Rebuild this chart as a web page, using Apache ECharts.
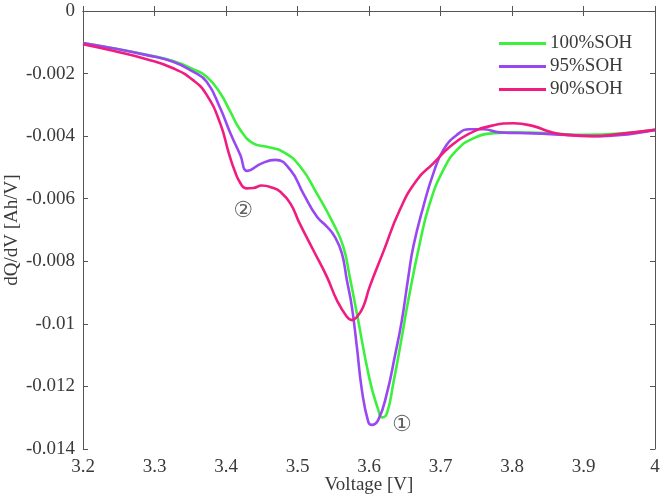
<!DOCTYPE html>
<html>
<head>
<meta charset="utf-8">
<script src="https://cdn.jsdelivr.net/npm/echarts@6/dist/echarts.min.js"></script>
<style>html,body{margin:0;padding:0;background:#fff}#c{width:666px;height:501px}</style>
</head>
<body>
<div id="c"></div>
<script>
// ---- data ----
const seriesNames = ['100%SOH', '95%SOH', '90%SOH'];
const xTicks = [3.2, 3.3, 3.4, 3.5, 3.6, 3.7, 3.8, 3.9, 4];
const yTicks = [0, -0.002, -0.004, -0.006, -0.008, -0.01, -0.012, -0.014];

const v100 = [3.200,3.242,3.289,3.326,3.354,3.373,3.392,3.406,3.420,3.438,3.457,3.480,3.504,3.527,3.550,3.564,3.573,3.583,3.601,3.613,3.618,3.625,3.634,3.646,3.655,3.671,3.685,3.704,3.723,3.746,3.774,3.806,3.853,3.900,3.950,4.000];
const q100 = [-0.00102,-0.00119,-0.00140,-0.00160,-0.00186,-0.00210,-0.00263,-0.00322,-0.00380,-0.00423,-0.00434,-0.00450,-0.00498,-0.00583,-0.00679,-0.00753,-0.00849,-0.00966,-0.01179,-0.01275,-0.01299,-0.01286,-0.01190,-0.01041,-0.00924,-0.00743,-0.00615,-0.00508,-0.00444,-0.00407,-0.00391,-0.00388,-0.00391,-0.00396,-0.00392,-0.00380];

const v95 = [3.200,3.242,3.289,3.326,3.354,3.373,3.392,3.406,3.420,3.430,3.450,3.469,3.490,3.508,3.527,3.541,3.552,3.562,3.569,3.576,3.583,3.590,3.599,3.604,3.613,3.625,3.636,3.646,3.655,3.662,3.676,3.690,3.704,3.723,3.741,3.760,3.783,3.830,3.876,3.923,4.000];
const q95 = [-0.00102,-0.00119,-0.00141,-0.00162,-0.00194,-0.00226,-0.00311,-0.00390,-0.00460,-0.00511,-0.00487,-0.00476,-0.00508,-0.00583,-0.00657,-0.00689,-0.00721,-0.00774,-0.00860,-0.00945,-0.01073,-0.01211,-0.01313,-0.01323,-0.01307,-0.01222,-0.01105,-0.00988,-0.00850,-0.00753,-0.00625,-0.00519,-0.00444,-0.00396,-0.00378,-0.00378,-0.00388,-0.00391,-0.00396,-0.00400,-0.00380];

const v90 = [3.200,3.242,3.289,3.326,3.354,3.373,3.392,3.404,3.412,3.420,3.428,3.438,3.450,3.465,3.476,3.490,3.503,3.522,3.541,3.555,3.569,3.576,3.584,3.592,3.601,3.620,3.643,3.667,3.690,3.713,3.737,3.769,3.802,3.830,3.853,3.876,3.914,3.946,4.000];
const q90 = [-0.00106,-0.00127,-0.00154,-0.00183,-0.00221,-0.00268,-0.00360,-0.00455,-0.00510,-0.00550,-0.00567,-0.00566,-0.00558,-0.00565,-0.00578,-0.00615,-0.00679,-0.00764,-0.00849,-0.00924,-0.00977,-0.00988,-0.00975,-0.00945,-0.00881,-0.00770,-0.00636,-0.00540,-0.00487,-0.00434,-0.00396,-0.00368,-0.00359,-0.00368,-0.00386,-0.00396,-0.00400,-0.00394,-0.00380];

const annText = ['\u2460', '\u2461'];
const annV = [3.646, 3.424];
const annQ = [-0.01325, -0.00640];

// ---- chart ----
const colors = ['#3cf03c', '#9848f2', '#f01c80'];
const font = '"Liberation Serif","Times New Roman",serif';
const txt = '#3a3a3a';
const axisLine = {show: true, lineStyle: {color: '#555', width: 1}};
const tickIn = {show: true, inside: true, length: 5, lineStyle: {color: '#555'}};

function pairs(xs, ys) { return xs.map((x, i) => [x, ys[i]]); }
const vs = [v100, v95, v90], qs = [q100, q95, q90];

const series = seriesNames.map((n, i) => ({
  name: n, type: 'line', data: pairs(vs[i], qs[i]),
  showSymbol: false, smooth: 0.5, lineStyle: {color: colors[i], width: 2.6},
  itemStyle: {color: colors[i]}, z: 2 + i
}));
series.push({
  type: 'scatter', data: annText.map((t, i) => [annV[i], annQ[i], t]),
  symbolSize: 0, silent: true,
  label: {show: true, position: 'inside', formatter: p => p.data[2], fontSize: 22, color: txt,
          fontFamily: '"DejaVu Sans","Noto Sans CJK SC",sans-serif'}
});

const chart = echarts.init(document.getElementById('c'));
chart.setOption({
  animation: false,
  backgroundColor: '#fff',
  grid: {left: 83, right: 11, top: 11, bottom: 52, containLabel: false, outerBoundsMode: 'none'},
  legend: {
    data: seriesNames, orient: 'vertical', left: 499, top: 34,
    itemWidth: 47, itemHeight: 3, itemGap: 4, icon: 'rect', padding: 0,
    textStyle: {fontFamily: font, fontSize: 19, color: txt, padding: [0, 0, 0, -1]}
  },
  xAxis: [{
    type: 'value', min: 3.2, max: 4, interval: 0.1, position: 'bottom',
    name: 'Voltage [V]', nameLocation: 'middle', nameGap: 27, nameMoveOverlap: false,
    nameTextStyle: {fontFamily: font, fontSize: 19, color: txt},
    axisLine, axisTick: tickIn, splitLine: {show: false},
    axisLabel: {fontFamily: font, fontSize: 19, color: txt, margin: 9,
      formatter: v => { const t = xTicks.find(k => Math.abs(k - v) < 1e-6); return t === undefined ? '' : String(t); }}
  }, {
    type: 'value', min: 3.2, max: 4, interval: 0.1, position: 'top',
    axisLine, axisTick: tickIn, splitLine: {show: false}, axisLabel: {show: false}
  }],
  yAxis: [{
    type: 'value', min: -0.014, max: 0, interval: 0.002, position: 'left',
    name: 'dQ/dV [Ah/V]', nameLocation: 'middle', nameGap: 61, nameRotate: 90, nameMoveOverlap: false,
    nameTextStyle: {fontFamily: font, fontSize: 19, color: txt},
    axisLine, axisTick: tickIn, splitLine: {show: false},
    axisLabel: {fontFamily: font, fontSize: 19, color: txt, margin: 8,
      formatter: v => { const t = yTicks.find(k => Math.abs(k - v) < 1e-9); return t === undefined ? '' : String(t); }}
  }, {
    type: 'value', min: -0.014, max: 0, interval: 0.002, position: 'right',
    axisLine, axisTick: tickIn, splitLine: {show: false}, axisLabel: {show: false}
  }],
  series
});
</script>
</body>
</html>
